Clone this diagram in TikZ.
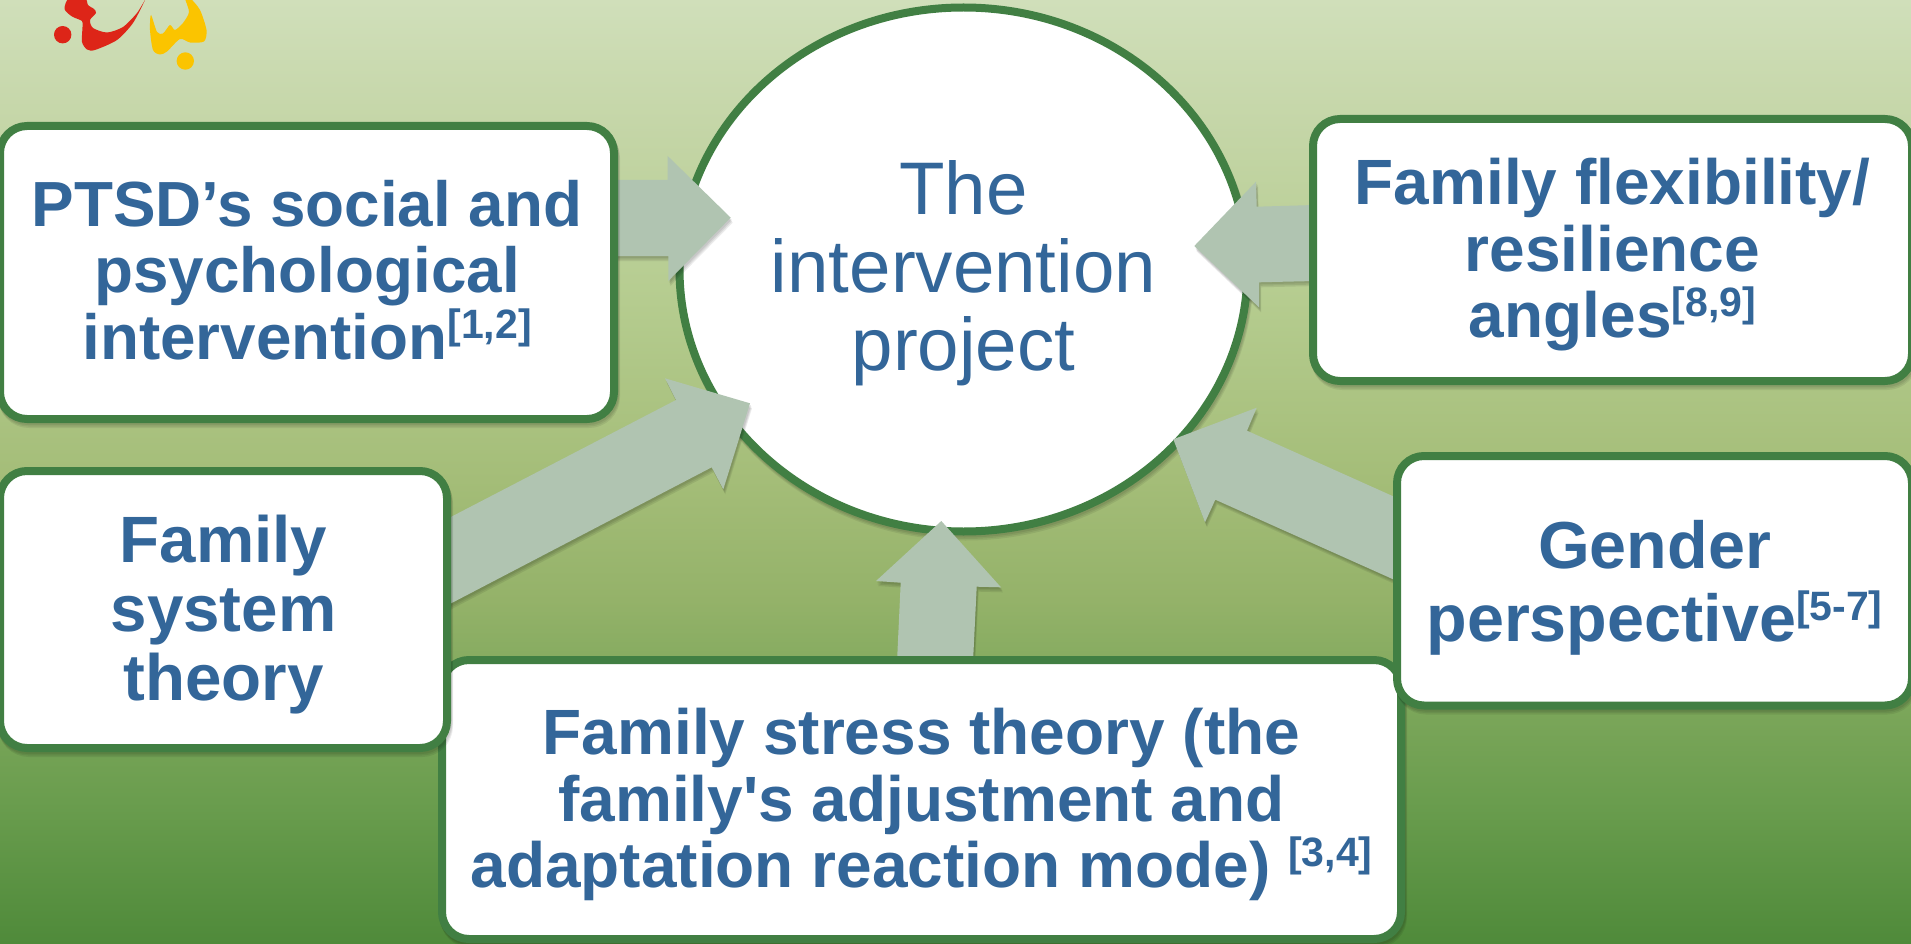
\documentclass[tikz,border=0pt]{standalone}
\usepackage{fontspec}
\setmainfont{Liberation Sans}[Ligatures=TeXOff]
\usetikzlibrary{shapes.geometric}
\definecolor{bgA}{HTML}{D0DFBA}
\definecolor{bgB}{HTML}{C5D6A8}
\definecolor{bgC}{HTML}{B5CC8F}
\definecolor{bgD}{HTML}{A4BD78}
\definecolor{bgE}{HTML}{94B269}
\definecolor{bgF}{HTML}{7DA75B}
\definecolor{bgG}{HTML}{6A9D4E}
\definecolor{bgH}{HTML}{4F8A3A}
\definecolor{frame}{HTML}{417F43}
\definecolor{ink}{HTML}{336699}
\definecolor{arrowc}{HTML}{B0C4B1}
\definecolor{logored}{HTML}{DD2518}
\definecolor{logoyellow}{HTML}{FBC400}
\pgfdeclareverticalshading{bgshade}{100bp}{color(0bp)=(bgH); color(25bp)=(bgH); color(32.6bp)=(bgG); color(37.9bp)=(bgF); color(43.2bp)=(bgE); color(49.6bp)=(bgD); color(59.1bp)=(bgC); color(68.64bp)=(bgB); color(75bp)=(bgA); color(100bp)=(bgA)}
\newcommand{\refmark}[1]{\raisebox{21pt}[0pt][0pt]{\fontsize{41}{41}\selectfont #1}}
\newcommand{\textstack}[2]{\raisebox{#1}[0pt][0pt]{\begin{tabular}{@{}c@{}}#2\end{tabular}}}
\tikzset{
  softedge/.style={
    preaction={draw=black,draw opacity=.07,line width=8pt,transform canvas={shift={(1pt,-2pt)}}},
    preaction={draw=black,draw opacity=.07,line width=8pt,transform canvas={shift={(1.5pt,-3.5pt)}}},
    preaction={draw=black,draw opacity=.07,line width=8pt,transform canvas={shift={(2pt,-5pt)}}}},
  softfill/.style={
    preaction={fill=black,fill opacity=.08,transform canvas={shift={(1pt,-2pt)}}},
    preaction={fill=black,fill opacity=.08,transform canvas={shift={(1.5pt,-3.5pt)}}},
    preaction={fill=black,fill opacity=.08,transform canvas={shift={(2pt,-5pt)}}}},
  card/.style={softedge,draw=frame,fill=white,line width=8pt,rounded corners=27pt,inner sep=0pt,text=ink},
  hub/.style={softedge,ellipse,draw=frame,fill=white,line width=8pt,inner sep=0pt,
    minimum width=568pt,minimum height=524pt,text=ink},
  blockarrow/.style={softfill,fill=arrowc},
}
\begin{document}
\begin{tikzpicture}[x=1pt,y=-1pt]
\useasboundingbox (0,0) rectangle (1911,944);
\shade[shading=bgshade] (0,0) rectangle (1911,944);
% logo
\fill[logored] (62.7,34.7) circle (8.7);
\fill[logoyellow] (185.3,61) circle (8.7);
\fill[logored] plot[smooth cycle,tension=.45] coordinates {(69,-2) (64.5,9) (72,16.5) (82,21) (82.5,27) (82,42) (87,49.5) (95,50) (117,40) (133,23) (145,0) (137,13) (123,27) (107,32.5) (93,28) (90,20) (96,13) (94,9) (88,5) (85,-2)};
\fill[logoyellow] plot[smooth cycle,tension=.45] coordinates {(190,-2) (200,10) (206.5,30) (204,41.5) (190,42.5) (180,39) (167,51.5) (160,54.5) (153,50) (150,30) (151,15) (157,32) (163,33.5) (170,25) (175,30) (183,23) (189,12) (185,-2)};
% hub
\node[hub,font=\fontsize{74.5}{78}\selectfont] (hub) at (963.5,269.5) {\textstack{-14.1pt}{The\\intervention\\project}};
% arrows
\draw[blockarrow,draw=none] (600,180) -- (667.7,180) -- (667.7,156) -- (730.7,217.7) -- (668.3,281) -- (668.3,256) -- (600,256) -- cycle;
\draw[blockarrow,draw=none] (445,520) -- (676,400) -- (665,378.3) -- (750,403.3) -- (723.3,489.3) -- (711.7,467.3) -- (445,606.5) -- cycle;
\draw[blockarrow,draw=none] (897,662) -- (900.7,582.7) -- (876,581) -- (941.3,521) -- (1001,587.3) -- (976.7,586.7) -- (973,662) -- cycle;
\draw[blockarrow,draw=none] (1397,498) -- (1247,430.7) -- (1256.7,407.7) -- (1173.3,439.3) -- (1205,522.3) -- (1215.3,499.7) -- (1397,581) -- cycle;
\draw[blockarrow,draw=none] (1315,205) -- (1256.7,206.7) -- (1256,181.7) -- (1194.3,246) -- (1259,307.3) -- (1259,282.3) -- (1315,281) -- cycle;
% cards
\node[card,font=\bfseries\fontsize{64}{66}\selectfont,minimum width=959pt,minimum height=279pt] (stress) at (921.5,799.5) {\textstack{-14.5pt}{Family stress theory (the\\family's adjustment and\\adaptation reaction mode) \refmark{[3,4]}}};
\node[card,font=\bfseries\fontsize{63.8}{66}\selectfont,minimum width=614pt,minimum height=293pt] (ptsd) at (307,272.5) {\textstack{-13.5pt}{PTSD’s social and\\psychological\\intervention\refmark{[1,2]}}};
\node[card,font=\bfseries\fontsize{65.5}{69}\selectfont,minimum width=447pt,minimum height=277pt] (system) at (223.5,609.5) {\textstack{-14.5pt}{Family\\system\\theory}};
\node[card,font=\bfseries\fontsize{66.5}{73}\selectfont,minimum width=515pt,minimum height=249.5pt] (gender) at (1654.5,580.75) {\textstack{-15.5pt}{Gender\\perspective\refmark{[5-7]}}};
\node[card,font=\bfseries\fontsize{64}{66.5}\selectfont,minimum width=599pt,minimum height=262pt] (flex) at (1612.5,250) {\textstack{-14.3pt}{Family flexibility/\\resilience\\angles\refmark{[8,9]}}};
\end{tikzpicture}
\end{document}
